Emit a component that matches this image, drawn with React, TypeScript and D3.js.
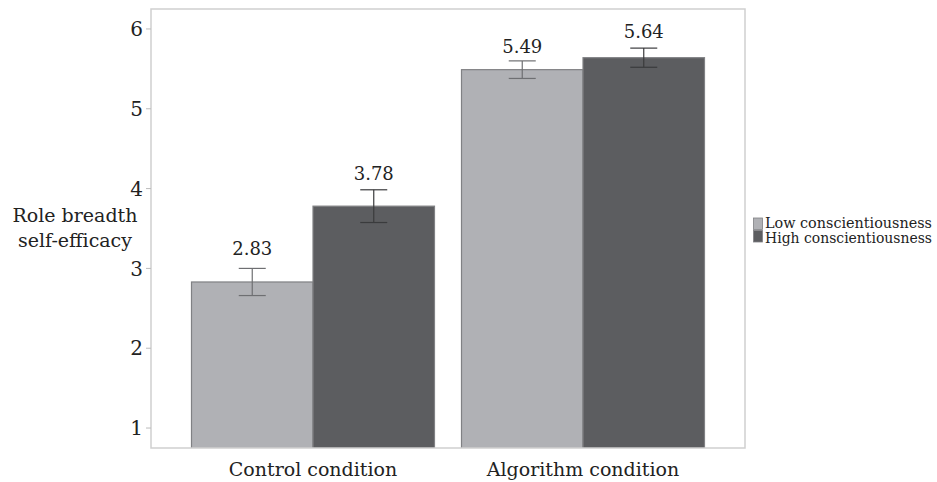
import React from "react";
import * as d3 from "d3";

const conditions = ["Control condition", "Algorithm condition"];
const groups = ["Low conscientiousness", "High conscientiousness"];
const means = [
  [2.83, 3.78],
  [5.49, 5.64],
];
const errors = [
  [0.17, 0.205],
  [0.11, 0.12],
];
const labelPos = [
  [3.17, 4.11],
  [5.7, 5.89],
];
const yTicks = [1, 2, 3, 4, 5, 6];
const colors = ["#b0b1b5", "#5c5d60"];

const W = 937, H = 482;
const panel = { left: 151, right: 745, top: 9, bottom: 448 };
const FONT = "'DejaVu Serif', serif";

export default function App() {
  const y = d3.scaleLinear().domain([0.75, 6.25]).range([panel.bottom, panel.top]);
  const xc = d3.scaleLinear().domain([0.4, 2.6]).range([panel.left, panel.right]);
  const unit = xc(2) - xc(1);
  const dodgeW = 0.9;
  const barW = (dodgeW / groups.length) * unit;
  const ebHalf = 0.05 * unit;

  return (
    <svg width={W} height={H} style={{ position: "absolute", left: 0, top: 0 }} fontFamily={FONT}>
      <rect x={0} y={0} width={W} height={H} fill="#fff" />
      <defs>
        <clipPath id="pc">
          <rect x={panel.left} y={panel.top} width={panel.right - panel.left} height={panel.bottom - panel.top} />
        </clipPath>
      </defs>
      <g clipPath="url(#pc)">
        {conditions.map((c, i) =>
          groups.map((g, j) => {
            const cx = xc(i + 1) - (dodgeW * unit) / 2 + barW * j;
            const v = means[i][j];
            return (
              <rect key={c + g} x={cx} y={y(v)} width={barW} height={y(0) - y(v)} fill={colors[j]} stroke="#808184" strokeWidth={1.2} />
            );
          })
        )}
        {conditions.map((c, i) =>
          groups.map((g, j) => {
            const mid = xc(i + 1) - (dodgeW * unit) / 2 + barW * (j + 0.5);
            const v = means[i][j];
            const e = errors[i][j];
            return (
              <g key={"e" + c + g} stroke={j === 0 ? "#6e6f72" : "#3a3b3d"} strokeWidth={1.2} fill="none">
                <line x1={mid} x2={mid} y1={y(v + e)} y2={y(v - e)} />
                <line x1={mid - ebHalf} x2={mid + ebHalf} y1={y(v + e)} y2={y(v + e)} />
                <line x1={mid - ebHalf} x2={mid + ebHalf} y1={y(v - e)} y2={y(v - e)} />
              </g>
            );
          })
        )}
      </g>
      {conditions.map((c, i) =>
        groups.map((g, j) => {
          const mid = xc(i + 1) - (dodgeW * unit) / 2 + barW * (j + 0.5);
          const v = means[i][j];
          return (
            <text key={"t" + c + g} x={mid} y={y(labelPos[i][j])} textAnchor="middle" fontSize={18} fill="#222">
              {v.toFixed(2)}
            </text>
          );
        })
      )}
      <rect x={panel.left} y={panel.top} width={panel.right - panel.left} height={panel.bottom - panel.top} fill="none" stroke="#cfcfcf" strokeWidth={1.5} />
      {yTicks.map((t) => (
        <g key={t}>
          <line x1={panel.left - 5} x2={panel.left} y1={y(t)} y2={y(t)} stroke="#bbb" />
          <text x={panel.left - 8} y={y(t)} dy="0.36em" textAnchor="end" fontSize={20} fill="#222">
            {t}
          </text>
        </g>
      ))}
      {conditions.map((c, i) => (
        <text key={c} x={xc(i + 1)} y={476} textAnchor="middle" fontSize={19} fill="#222">
          {c}
        </text>
      ))}
      <text x={75} y={222} textAnchor="middle" fontSize={19} fill="#222">Role breadth</text>
      <text x={75} y={247} textAnchor="middle" fontSize={19} fill="#222">self-efficacy</text>
      {groups.map((g, j) => (
        <g key={g}>
          <rect x={753.5} y={218 + j * 12.5} width={9} height={11.5} fill={colors[j]} stroke="#808184" strokeWidth={0.8} />
          <text x={765} y={228 + j * 15} fontSize={14.3} fill="#222" textLength={167} lengthAdjust="spacingAndGlyphs">{g}</text>
        </g>
      ))}
    </svg>
  );
}
